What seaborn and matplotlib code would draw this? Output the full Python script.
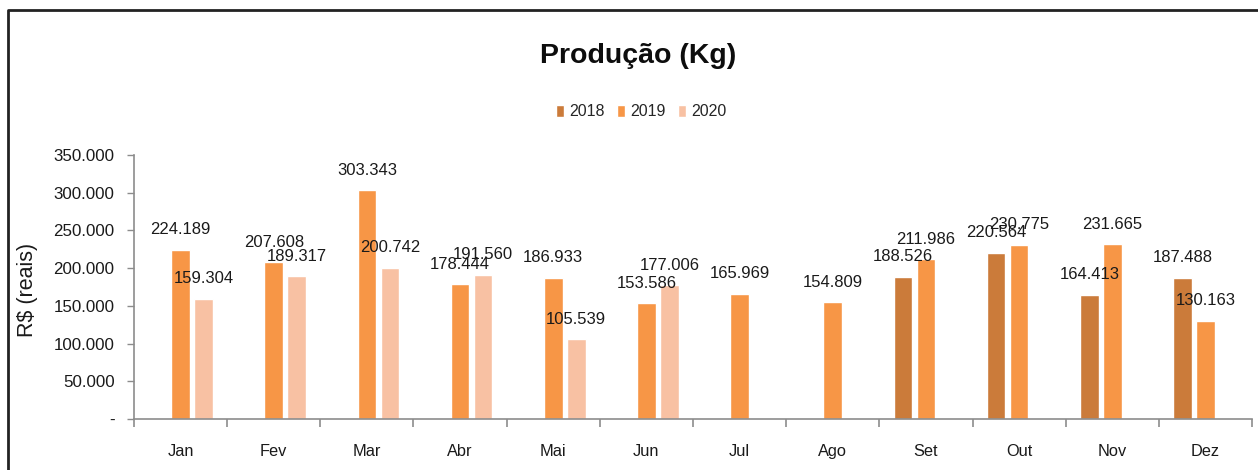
import numpy as np
import pandas as pd
import matplotlib
matplotlib.use("Agg")
import matplotlib.pyplot as plt
import seaborn as sns
from matplotlib.ticker import FuncFormatter, FixedLocator
from matplotlib.lines import Line2D

months = ["Jan", "Fev", "Mar", "Abr", "Mai", "Jun", "Jul", "Ago", "Set", "Out", "Nov", "Dez"]
years = ["2018", "2019", "2020"]
v2018 = [None, None, None, None, None, None, None, None, 188526, 220564, 164413, 187488]
v2019 = [224189, 207608, 303343, 178444, 186933, 153586, 165969, 154809, 211986, 230775, 231665, 130163]
v2020 = [159304, 189317, 200742, 191560, 105539, 177006, None, None, None, None, None, None]
colors = {"2018": "#CB7B3A", "2019": "#F79646", "2020": "#F8C1A3"}
yticks = [0, 50000, 100000, 150000, 200000, 250000, 300000, 350000]

rows = []
for y, vals in zip(years, [v2018, v2019, v2020]):
    for m, v in zip(months, vals):
        if v is not None:
            rows.append({"Mes": m, "Ano": y, "Valor": v})
df = pd.DataFrame(rows)

sns.set_theme(style="white")
FN = ["Liberation Sans", "DejaVu Sans"]
plt.rcParams["font.family"] = FN

fig = plt.figure(figsize=(12.58, 4.70), dpi=100)
ax = fig.add_axes([134 / 1258, 1 - 419 / 470, (1252 - 134) / 1258, (419 - 155) / 470])

sns.barplot(data=df, x="Mes", y="Valor", hue="Ano", order=months, hue_order=years,
            palette=colors, width=0.74, gap=0.19, dodge=True, errorbar=None,
            saturation=1, ax=ax, legend=True)

fmt = lambda v: f"{v:,.0f}".replace(",", ".")
for c in ax.containers:
    ax.bar_label(c, fmt=fmt, padding=9, fontsize=12, color="#1a1a1a")

ax.set_xlim(-0.5, len(months) - 0.5)
ax.set_ylim(0, 350000)
ax.set_yticks(yticks)
ax.yaxis.set_major_formatter(FuncFormatter(lambda v, p: "-" if v == 0 else f"{v:,.0f}".replace(",", ".")))
ax.tick_params(axis="y", which="major", left=True, length=5, width=1, color="#8c8c8c",
               labelsize=12.2, labelcolor="#1a1a1a", pad=9)
ax.tick_params(axis="x", which="major", bottom=False, length=0, labelsize=11.8,
               labelcolor="#1a1a1a", pad=18)
ax.xaxis.set_minor_locator(FixedLocator(np.arange(-0.5, len(months), 1.0)))
ax.tick_params(axis="x", which="minor", bottom=True, length=6, width=1.2, color="#8c8c8c")
ax.set_xlabel("")
ax.set_ylabel("R$ (reais)", fontsize=15.5, color="#1a1a1a")
ax.yaxis.set_label_coords((38 - 134) / 1118, (419 - 290) / 264)
for s in ["top", "right"]:
    ax.spines[s].set_visible(False)
for s in ["left", "bottom"]:
    ax.spines[s].set_color("#8c8c8c")
    ax.spines[s].set_linewidth(1.2)

h, l = ax.get_legend_handles_labels()
ax.get_legend().remove()
fig.legend(h, l, loc="center", bbox_to_anchor=(641 / 1258, 1 - 112 / 470), ncol=3,
           frameon=False, fontsize=11.5, handlelength=0.5, handleheight=0.8,
           handletextpad=0.35, columnspacing=0.75)

fig.text(638 / 1258, 1 - 56 / 470, "Produção (Kg)", ha="center", va="center",
         fontsize=20.5, fontweight="bold", color="#0d0d0d")

# chart frame (left and top edges visible)
fig.add_artist(Line2D([8 / 1258, 8 / 1258, 1.0], [0.0, 1 - 10 / 470, 1 - 10 / 470],
                      transform=fig.transFigure, color="#222222", linewidth=2))

fig.savefig("out.png", dpi=100, facecolor="white")
